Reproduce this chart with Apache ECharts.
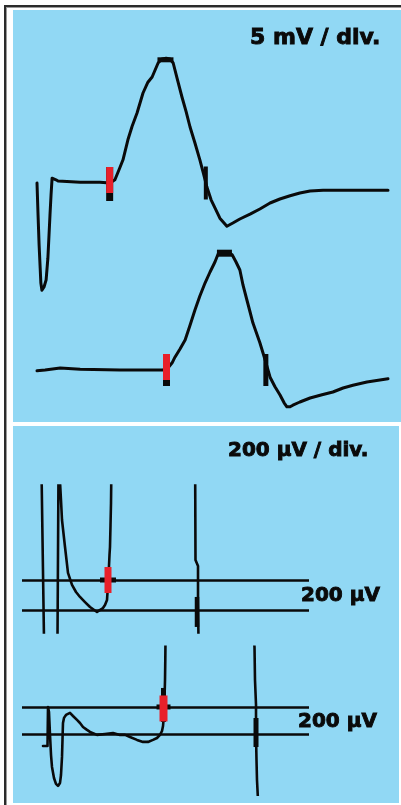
<!DOCTYPE html>
<html>
<head>
<meta charset="utf-8">
<script src="https://cdn.jsdelivr.net/npm/echarts@6/dist/echarts.min.js"></script>
<style>
  html, body { margin: 0; padding: 0; background: #ffffff; }
  #chart { width: 401px; height: 805px; }
</style>
</head>
<body>
<div id="chart"></div>
<script>
// ---- Compound muscle action potentials, 5 mV / div (time in ms, amplitude in mV) ----
const distalT = [0, 0.03, 0.06, 0.09, 0.11, 0.14, 0.20, 0.26, 0.31, 0.37, 0.40, 0.43, 0.48, 0.54, 0.60, 1.23, 1.79, 2.08,
  2.22, 2.36, 2.45, 2.59, 2.71, 2.85, 3.02, 3.16, 3.28, 3.45, 3.56, 3.68, 3.79, 3.88, 3.99, 4.13, 4.25, 4.36, 4.50,
  4.64, 4.73, 4.84, 4.96, 5.07, 5.21, 5.41, 5.58, 5.78, 6.07, 6.35, 6.64, 6.92, 7.21, 7.49, 7.78, 8.15, 10.0];
const distalV = [0, -4.0, -7.75, -10.6, -12.5, -13.4, -13.0, -12.1, -9.4, -4.0, -1.5, 0.6, 0.75, 0.4, 0.25, 0.1, 0.1, 0,
  0.4, 1.9, 2.9, 5.4, 7.1, 8.75, 11.25, 12.6, 13.25, 15.0, 15.5, 15.6, 15.5, 15.0, 13.1, 10.75, 8.9, 7.0, 5.0,
  2.9, 1.4, -0.5, -2.1, -3.1, -4.4, -5.4, -5.0, -4.5, -3.9, -3.25, -2.5, -2.0, -1.6, -1.25, -1.0, -0.9, -0.9];

const proximalT = [0, 0.23, 0.66, 1.23, 2.36, 3.59, 3.73, 3.85, 3.93, 4.07, 4.22, 4.36, 4.50, 4.64, 4.79, 4.93, 5.07,
  5.16, 5.27, 5.44, 5.56, 5.67, 5.78, 5.87, 5.98, 6.07, 6.15, 6.27, 6.35, 6.50, 6.64, 6.78, 6.92, 7.04, 7.12, 7.21,
  7.29, 7.49, 7.78, 8.12, 8.43, 8.72, 9.00, 9.40, 10.0];
const proximalV = [-0.1, 0, 0.25, 0.1, 0, 0, 0.25, 0.9, 1.6, 2.6, 3.75, 5.6, 7.5, 9.25, 10.9, 12.25, 13.5,
  14.5, 14.75, 14.75, 14.4, 13.5, 12.5, 10.6, 8.75, 7.25, 5.9, 4.4, 3.4, 1.25, -0.9, -2.1, -3.1, -4.1, -4.6, -4.6,
  -4.4, -4.0, -3.5, -3.1, -2.75, -2.25, -1.9, -1.5, -1.1];

// latency cursors: [t, mV]
const distalOnset = [2.07, 0], distalPeak = [3.66, 15.4], distalEnd = [4.81, 0];
const proximalOnset = [3.69, 0], proximalPeak = [5.34, 14.6], proximalEnd = [6.52, 0];

// ---- Same responses at high gain, 200 µV / div (time in ms, amplitude in µV) ----
const distalHiT = [0.557, 0.629, 1.014, 1.043, 1.086, 1.091, 1.114, 1.143, 1.229, 1.314, 1.429, 1.543, 1.657, 1.800,
  1.943, 2.143, 2.314, 2.371, 2.429, 2.457, 2.471, 2.5, 2.514, 2.529, 2.543, 2.549, 2.554, 4.943, 4.949, 4.957,
  5.029, 5.029, 5.043];
const distalHiV = [933, -200, -200, 933, 933, 833, 733, 600, 420, 247, 167, 120, 87, 53,
  20, -13, 13, 33, 67, 167, 220, 367, 420, 567, 713, 833, 933, 933, 833, 333,
  293, 67, -200];

const proximalHiT = [0.6, 0.729, 0.743, 0.771, 0.8, 0.829, 0.857, 0.914, 0.971, 1.029, 1.086, 1.114, 1.143, 1.157,
  1.171, 1.2, 1.257, 1.371, 1.457, 1.571, 1.657, 1.743, 1.857, 1.943, 2.143, 2.371, 2.6, 2.8, 2.943, 3.086,
  3.286, 3.457, 3.6, 3.743, 3.857, 3.943, 4.0, 4.029, 4.057, 4.071, 4.086, 4.094, 4.1, 6.629, 6.643, 6.657,
  6.686, 6.686, 6.7, 6.714, 6.743];
const proximalHiV = [-89, -89, 200, 163, -7, -156, -244, -326, -370, -385, -363, -304, -170, -44,
  81, 119, 141, 156, 133, 104, 81, 52, 30, 15, -7, 0, 7, -7, -7, -22,
  -44, -59, -59, -44, -30, -7, 22, 59, 141, 252, 400, 548, 696, 696, 644, 400,
  215, -7, -193, -341, -489];

// reference window lines (µV)
const windowLevels = [0, 200];
const distalHiOnset = [2.457, 200], distalHiEnd = [5.0, -13];
const proximalHiOnset = [4.043, 200], proximalHiEnd = [6.686, 11];

const gainTop = '5 mV / div.';
const gainBottom = '200 µV / div.';
const windowLabel = '200 µV';

const zip = (a, b) => a.map((v, i) => [v, b[i]]);
const INK = '#0a0a0a';
const RED = '#e8202a';
const BLUE = '#91d8f4';

const traceStyle = (w) => ({ color: INK, width: w, cap: 'round', join: 'round' });
const trace = (name, idx, t, v, w) => ({
  name, type: 'line', xAxisIndex: idx, yAxisIndex: idx, data: zip(t, v),
  showSymbol: false, symbol: 'none', clip: true, lineStyle: traceStyle(w), z: 3, silent: true
});
const cursor = (name, idx, pts, size, color, offset, z) => ({
  name, type: 'scatter', xAxisIndex: idx, yAxisIndex: idx, data: pts,
  symbol: 'rect', symbolSize: size, symbolOffset: offset || [0, 0],
  itemStyle: { color, opacity: 1 }, z, silent: true
});
const windowLines = {
  silent: true, symbol: 'none', label: { show: false },
  lineStyle: { color: INK, width: 2.6, type: 'solid' },
  data: windowLevels.map(y => ({ yAxis: y }))
};
const caption = (text, x, y, size) => ({
  type: 'text', x, y, z: 5,
  style: {
    text, fill: INK, stroke: INK, lineWidth: 0.9,
    font: 'bold ' + size + 'px "DejaVu Sans"', textAlign: 'left', textVerticalAlign: 'middle'
  }
});

const chart = echarts.init(document.getElementById('chart'), null, { renderer: 'canvas' });

chart.setOption({
  animation: false,
  backgroundColor: '#ffffff',
  grid: [
    { left: 37, width: 351, top: 23, height: 280 },
    { left: 37, width: 351, top: 242, height: 176 },
    { left: 22, width: 287, top: 485.5, height: 147 },
    { left: 22, width: 287, top: 646.9, height: 147.8 }
  ],
  xAxis: [
    { gridIndex: 0, type: 'value', min: 0, max: 10, show: false },
    { gridIndex: 1, type: 'value', min: 0, max: 10, show: false },
    { gridIndex: 2, type: 'value', min: 0, max: 8.2, show: false },
    { gridIndex: 3, type: 'value', min: 0, max: 8.2, show: false }
  ],
  yAxis: [
    { gridIndex: 0, type: 'value', min: -15, max: 20, show: false },
    { gridIndex: 1, type: 'value', min: -6, max: 16, show: false },
    { gridIndex: 2, type: 'value', min: -150, max: 830, show: false },
    { gridIndex: 3, type: 'value', min: -450, max: 645, show: false }
  ],
  graphic: [
    // frame and panels
    { type: 'rect', shape: { x: 13, y: 10, width: 388, height: 412 }, style: { fill: BLUE }, z: 0 },
    { type: 'rect', shape: { x: 13, y: 426, width: 386, height: 377 }, style: { fill: BLUE }, z: 0 },
    { type: 'line', shape: { x1: 5, y1: 5, x2: 5, y2: 805 }, style: { stroke: '#2b2b2b', lineWidth: 2 }, z: 0 },
    { type: 'line', shape: { x1: 4, y1: 6, x2: 401, y2: 6 }, style: { stroke: '#2b2b2b', lineWidth: 2 }, z: 0 },
    { type: 'line', shape: { x1: 6.5, y1: 7, x2: 6.5, y2: 805 }, style: { stroke: '#9a9a9a', lineWidth: 1 }, z: 0 },
    { type: 'line', shape: { x1: 6, y1: 7.5, x2: 401, y2: 7.5 }, style: { stroke: '#9a9a9a', lineWidth: 1 }, z: 0 },
    // gain captions
    caption(gainTop, 250, 38, 22),
    caption(gainBottom, 228, 451, 20),
    caption(windowLabel, 301, 596, 20),
    caption(windowLabel, 298, 722, 20)
  ],
  series: [
    trace('distal', 0, distalT, distalV, 3),
    trace('proximal', 1, proximalT, proximalV, 3),
    Object.assign(trace('distal high gain', 2, distalHiT, distalHiV, 2.6), { markLine: windowLines }),
    Object.assign(trace('proximal high gain', 3, proximalHiT, proximalHiV, 2.6), { markLine: windowLines }),

    // latency cursors, low gain
    cursor('distal onset base', 0, [distalOnset], [7, 34], INK, [0, 1], 4),
    cursor('distal onset', 0, [distalOnset], [7, 26], RED, [0, -3], 5),
    cursor('distal peak', 0, [distalPeak], [16, 5], INK, null, 4),
    cursor('distal end', 0, [distalEnd], [4, 33], INK, null, 4),
    cursor('proximal onset base', 1, [proximalOnset], [7, 32], INK, null, 4),
    cursor('proximal onset', 1, [proximalOnset], [7, 26], RED, [0, -3], 5),
    cursor('proximal peak', 1, [proximalPeak], [15, 7], INK, null, 4),
    cursor('proximal end', 1, [proximalEnd], [5, 32], INK, null, 4),

    // latency cursors, high gain
    cursor('distal hi onset base', 2, [distalHiOnset], [16, 5], INK, null, 4),
    cursor('distal hi onset', 2, [distalHiOnset], [7, 26], RED, null, 5),
    cursor('distal hi end', 2, [distalHiEnd], [4.5, 30], INK, null, 4),
    cursor('proximal hi onset base', 3, [proximalHiOnset], [14, 5], INK, null, 4),
    cursor('proximal hi onset cap', 3, [proximalHiOnset], [5, 34], INK, [0, -2], 4),
    cursor('proximal hi onset', 3, [proximalHiOnset], [8, 26], RED, [0, 1.5], 5),
    cursor('proximal hi end', 3, [proximalHiEnd], [5, 29], INK, null, 4)
  ]
});
</script>
</body>
</html>
